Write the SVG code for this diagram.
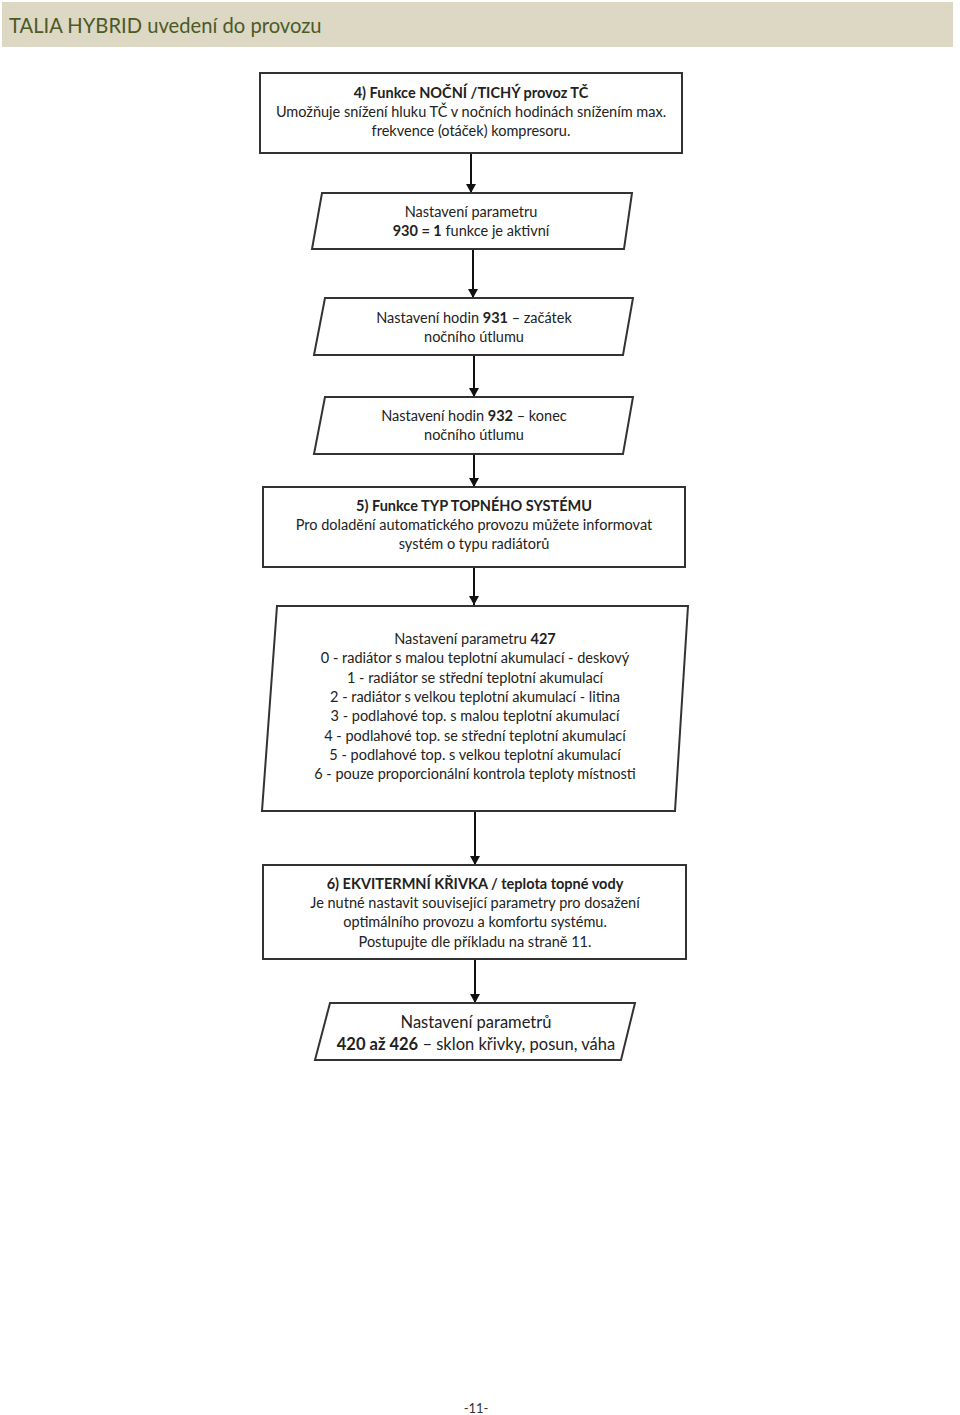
<svg xmlns="http://www.w3.org/2000/svg" width="960" height="1415" viewBox="0 0 960 1415">
<defs>
<marker id="ah" viewBox="0 0 10 11" refX="10" refY="5.5" markerWidth="11" markerHeight="10" markerUnits="userSpaceOnUse" orient="auto">
<path d="M0,0 L10,5.5 L0,11 z" fill="#111"/>
</marker>
</defs>
<style>
.box{fill:#fff;stroke:#333;stroke-width:2}
.t{font-family:Lato,"Liberation Sans",sans-serif;font-size:14.5px;fill:#222;text-anchor:middle}
.b{font-weight:bold}
.big{font-size:16.5px}
.con{stroke:#111;stroke-width:2;fill:none;marker-end:url(#ah)}
</style>
<rect x="2" y="2" width="951" height="45" fill="#dcd8c4"/>
<text x="9" y="33" font-family="Lato,'Liberation Sans',sans-serif" font-size="20.2" fill="#4b5a26">TALIA HYBRID uvedení do provozu</text>

<g id="connectors">
<line class="con" x1="471" y1="154" x2="471" y2="193"/>
<line class="con" x1="473" y1="250" x2="473" y2="298"/>
<line class="con" x1="474" y1="355" x2="474" y2="397"/>
<line class="con" x1="474" y1="454" x2="474" y2="487"/>
<line class="con" x1="474" y1="567" x2="474" y2="605"/>
<line class="con" x1="475" y1="812" x2="475" y2="865"/>
<line class="con" x1="475" y1="960" x2="475" y2="1003"/>
</g>

<g id="n1">
<rect class="box" x="260" y="73" width="422" height="80"/>
<text class="t b" x="471" y="98">4) Funkce NOČNÍ /TICHÝ provoz TČ</text>
<text class="t" x="471" y="117">Umožňuje snížení hluku TČ v nočních hodinách snížením max.</text>
<text class="t" x="471" y="136">frekvence (otáček) kompresoru.</text>
</g>

<g id="n2">
<polygon class="box" points="322,193 632,193 624,249 312,249"/>
<text class="t" x="471" y="217">Nastavení parametru</text>
<text class="t" x="471" y="236"><tspan class="b">930 = 1</tspan> funkce je aktivní</text>
</g>

<g id="n3">
<polygon class="box" points="325,298 633,298 623,355 314,355"/>
<text class="t" x="474" y="323">Nastavení hodin  <tspan class="b">931</tspan> – začátek</text>
<text class="t" x="474" y="342">nočního útlumu</text>
</g>

<g id="n4">
<polygon class="box" points="325,397 633,397 623,454 314,454"/>
<text class="t" x="474" y="421">Nastavení hodin  <tspan class="b">932</tspan> – konec</text>
<text class="t" x="474" y="440">nočního útlumu</text>
</g>

<g id="n5">
<rect class="box" x="263" y="487" width="422" height="80"/>
<text class="t b" x="474" y="511">5) Funkce TYP TOPNÉHO SYSTÉMU</text>
<text class="t" x="474" y="530">Pro doladění automatického provozu můžete informovat</text>
<text class="t" x="474" y="549">systém o typu radiátorů</text>
</g>

<g id="n6">
<polygon class="box" points="277,606 688,606 675,811 262,811"/>
<text class="t" x="475" y="644">Nastavení parametru <tspan class="b">427</tspan></text>
<text class="t" x="475" y="663">0 - radiátor s malou teplotní akumulací - deskový</text>
<text class="t" x="475" y="683">1 - radiátor se střední teplotní akumulací</text>
<text class="t" x="475" y="702">2 - radiátor s velkou teplotní akumulací - litina</text>
<text class="t" x="475" y="721">3 - podlahové top. s malou teplotní akumulací</text>
<text class="t" x="475" y="741">4 - podlahové top. se střední teplotní akumulací</text>
<text class="t" x="475" y="760">5 - podlahové top. s velkou teplotní akumulací</text>
<text class="t" x="475" y="779">6 - pouze proporcionální kontrola teploty místnosti</text>
</g>

<g id="n7">
<rect class="box" x="263" y="865" width="423" height="94"/>
<text class="t b" x="475" y="889">6) EKVITERMNÍ KŘIVKA / teplota topné vody</text>
<text class="t" x="475" y="908">Je nutné nastavit související parametry pro dosažení</text>
<text class="t" x="475" y="927">optimálního provozu a komfortu systému.</text>
<text class="t" x="475" y="947">Postupujte dle příkladu na straně 11.</text>
</g>

<g id="n8">
<polygon class="box" points="330,1003 635,1003 621,1060 315,1060"/>
<text class="t big" x="476" y="1028">Nastavení parametrů</text>
<text class="t big" x="476" y="1050"><tspan class="b">420 až 426</tspan> – sklon křivky, posun, váha</text>
</g>

<text x="476" y="1413" font-family="Lato,'Liberation Sans',sans-serif" font-size="13" fill="#333" text-anchor="middle">-11-</text>
</svg>
